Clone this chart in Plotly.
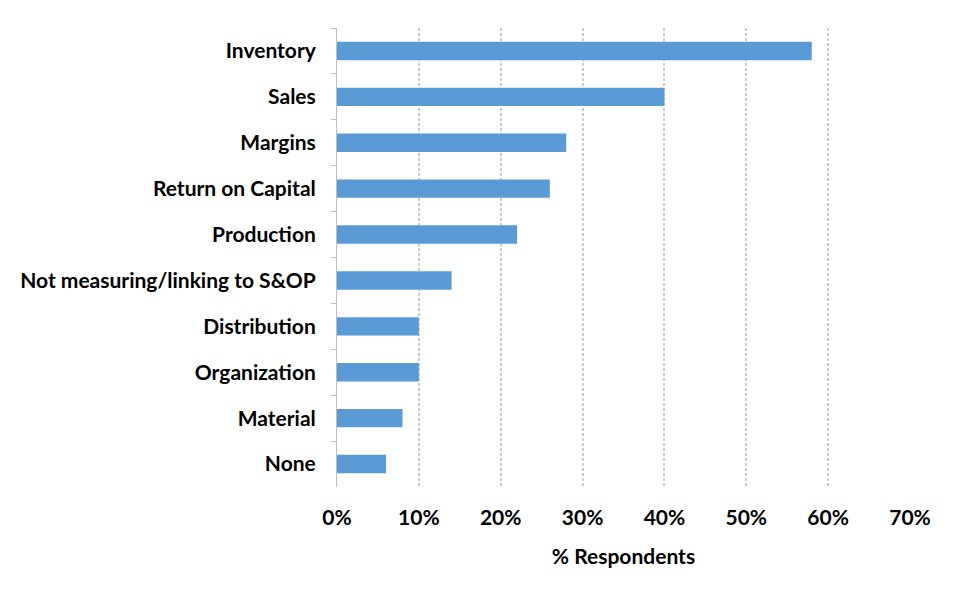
import plotly.graph_objects as go

categories = ["Inventory", "Sales", "Margins", "Return on Capital", "Production",
              "Not measuring/linking to S&OP", "Distribution", "Organization",
              "Material", "None"]
values = [0.58, 0.40, 0.28, 0.26, 0.22, 0.14, 0.10, 0.10, 0.08, 0.06]
tick_vals = [0, 0.1, 0.2, 0.3, 0.4, 0.5, 0.6, 0.7]
tick_text = ["0%", "10%", "20%", "30%", "40%", "50%", "60%", "70%"]

fig = go.Figure(go.Bar(
    x=values, y=categories, orientation="h",
    marker=dict(color="#5B9BD5", line=dict(width=0)),
    width=0.4,
))

font_family = "Lato"
fig.update_layout(
    width=960, height=596,
    margin=dict(l=322, r=58, t=20, b=117),
    paper_bgcolor="white", plot_bgcolor="white",
    showlegend=False,
)
fig.update_xaxes(
    range=[0, 0.7], tickvals=tick_vals, ticktext=tick_text,
    showgrid=True, gridcolor="#cccccc", griddash="3px,2px", gridwidth=1.5,
    zeroline=False, showline=False, ticks="",
    tickfont=dict(family=font_family, size=21, color="black", weight="bold"),
    ticklabelstandoff=16,
    title=dict(text="% Respondents", standoff=21,
               font=dict(family=font_family, size=21, color="black", weight="bold")),
)
fig.update_yaxes(
    categoryorder="array", categoryarray=categories, autorange="reversed",
    showline=True, linecolor="#bfbfbf", linewidth=1,
    ticks="outside", tickson="boundaries", ticklen=5, tickcolor="#bfbfbf",
    showgrid=False,
    tickfont=dict(family=font_family, size=21, color="black", weight="bold"),
    ticklabelstandoff=16,
)

fig.write_html("out.html")
